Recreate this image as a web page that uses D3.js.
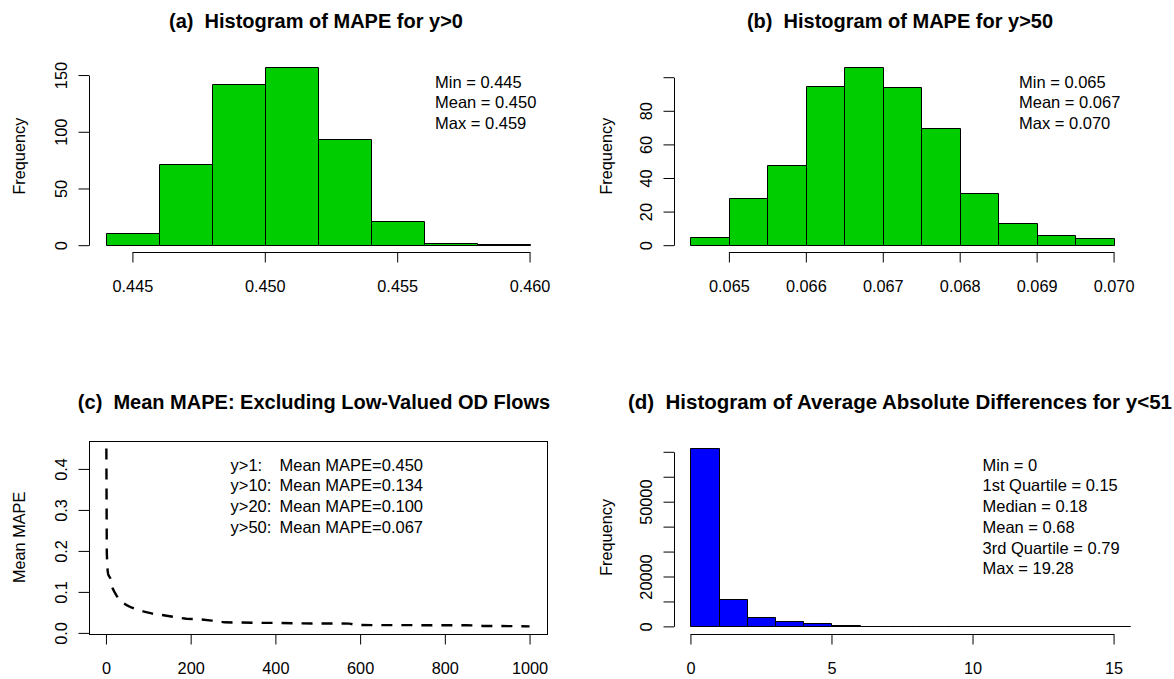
<!DOCTYPE html>
<html>
<head>
<meta charset="utf-8">
<script src="https://cdn.jsdelivr.net/npm/d3@7"></script>
<style>
  body { margin: 0; background: #fff; }
  svg text { font-family: "Liberation Sans", Arial, sans-serif; fill: #000; }
</style>
</head>
<body>
<div id="chart"></div>
<script>
// (a) histogram of MAPE for y>0
const breaksA = [0.444, 0.446, 0.448, 0.450, 0.452, 0.454, 0.456, 0.458, 0.460];
const countsA = [11, 72, 142, 157, 94, 21, 2, 1];
const statsA = ["Min = 0.445", "Mean = 0.450", "Max = 0.459"];
const xTicksA = [0.445, 0.450, 0.455, 0.460];
const yTicksA = [0, 50, 100, 150];

// (b) histogram of MAPE for y>50
const breaksB = [0.0645, 0.0650, 0.0655, 0.0660, 0.0665, 0.0670, 0.0675, 0.0680, 0.0685, 0.0690, 0.0695, 0.0700];
const countsB = [5, 28, 48, 95, 106, 94, 70, 31, 13, 6, 4];
const statsB = ["Min = 0.065", "Mean = 0.067", "Max = 0.070"];
const xTicksB = [0.065, 0.066, 0.067, 0.068, 0.069, 0.070];
const yTicksB = [0, 20, 40, 60, 80, 100];
const yLabelsB = ["0", "20", "40", "60", "80", ""];

// (c) mean MAPE when dropping low valued OD flows
const thresholds = [1, 2, 3, 4, 5, 6, 8, 10, 13, 16, 20, 25, 30, 40, 50, 60, 75, 90, 110, 130, 160, 190, 220, 250, 280, 320, 360, 400, 450, 500, 550, 575, 590, 650, 700, 750, 800, 850, 875, 890, 950, 1000];
const meanMape = [0.450, 0.195, 0.172, 0.152, 0.145, 0.141, 0.137, 0.134, 0.118, 0.108, 0.100, 0.091, 0.084, 0.074, 0.067, 0.062, 0.056, 0.052, 0.047, 0.044, 0.039, 0.0345, 0.0333, 0.0300, 0.0258, 0.0252, 0.0246, 0.0244, 0.0232, 0.0230, 0.0229, 0.0226, 0.0192, 0.0190, 0.0189, 0.0188, 0.0187, 0.0186, 0.0183, 0.0170, 0.0166, 0.0159];
const cutLabels = ["y>1:", "y>10:", "y>20:", "y>50:"];
const cutMeans = ["0.450", "0.134", "0.100", "0.067"];
const xTicksC = [0, 200, 400, 600, 800, 1000];
const yTicksC = [0, 0.1, 0.2, 0.3, 0.4];

// (d) histogram of average absolute differences for y<51
const breaksD = [0, 1, 2, 3, 4, 5, 6, 7, 8, 9, 10, 11, 12, 13, 14, 15, 16, 17, 18, 19, 20];
const countsD = [71360, 11100, 3750, 2300, 1350, 700, 250, 150, 90, 60, 40, 25, 15, 10, 6, 4, 3, 2, 1, 1];
const statsD = ["Min = 0", "1st Quartile = 0.15", "Median = 0.18", "Mean = 0.68", "3rd Quartile = 0.79", "Max = 19.28"];
const xTicksD = [0, 5, 10, 15];
const yTicksD = [0, 10000, 20000, 30000, 40000, 50000, 60000, 70000];
const yLabelsD = ["0", "", "20000", "", "", "50000", "", ""];

const W = 1174, H = 679;
const LABEL = 16.3, TITLE = 20, LINE = 20.7;

// plot regions (pixels)
const leftCol = {x0: 89, x1: 546.5}, rightCol = {x0: 673.5, x1: 1130.5};
const topRow = {y0: 60, y1: 252.3}, bottomRow = {y0: 441.3, y1: 633.5};

const svg = d3.select("#chart").append("svg")
  .attr("width", W).attr("height", H);

// R style limits: data range padded by 4% each side
function rExt(lo, hi) {
  const p = (hi - lo) * 0.04;
  return [lo - p, hi + p];
}

function xAxis(x, ticks, fmt, yPos) {
  const g = svg.append("g")
    .attr("transform", `translate(0,${Math.round(yPos)})`)
    .call(d3.axisBottom(x).tickValues(ticks).tickFormat(fmt).tickSize(10.5).tickSizeOuter(0))
    .attr("font-size", LABEL);
  g.select(".domain").attr("d", `M${x(ticks[0]) + 0.5},0.5H${x(ticks[ticks.length - 1]) + 0.5}`);
  g.selectAll("line").attr("stroke", "#000");
  g.selectAll("text").attr("y", 34).attr("dy", "0.35em");
  return g;
}

function yAxis(y, ticks, labels, xPos) {
  const g = svg.append("g")
    .attr("transform", `translate(${Math.round(xPos)},0)`)
    .call(d3.axisLeft(y).tickValues(ticks).tickFormat((d, i) => labels[i]).tickSize(10.5).tickSizeOuter(0))
    .attr("font-size", LABEL);
  g.select(".domain").attr("d", `M0.5,${y(ticks[0]) + 0.5}V${y(ticks[ticks.length - 1]) + 0.5}`);
  g.selectAll("line").attr("stroke", "#000");
  g.selectAll("text")
    .attr("transform", "rotate(-90)")
    .attr("x", 0).attr("y", -28)
    .attr("dy", "0.35em")
    .attr("text-anchor", "middle");
  return g;
}

function title(txt, x, cy, anchor, size) {
  svg.append("text")
    .attr("x", x).attr("y", cy).attr("dy", "0.35em")
    .attr("text-anchor", anchor || "middle")
    .attr("font-size", size || TITLE)
    .attr("font-weight", "bold")
    .style("white-space", "pre")
    .text(txt);
}

function yTitle(txt, cx, cy) {
  svg.append("text")
    .attr("transform", `translate(${cx},${cy}) rotate(-90)`)
    .attr("dy", "0.35em")
    .attr("text-anchor", "middle")
    .attr("font-size", LABEL)
    .text(txt);
}

function stats(lines, x, y0) {
  svg.append("g").selectAll("text")
    .data(lines)
    .join("text")
    .attr("x", x)
    .attr("y", (d, i) => y0 + i * LINE)
    .attr("dy", "0.35em")
    .attr("font-size", 16.5)
    .text(d => d);
}

// bars as closed paths so a zero height bin still shows its outline
function hist(x, y, breaks, counts, fill, clip) {
  const bins = counts.map((c, i) => ({x0: breaks[i], x1: breaks[i + 1], n: c}));
  const g = svg.append("g");
  if (clip) g.attr("clip-path", `url(#${clip})`);
  g.selectAll("path")
    .data(bins)
    .join("path")
    .attr("d", d => {
      const a = Math.round(x(d.x0)) + 0.5, b = Math.round(x(d.x1)) + 0.5;
      const t = Math.round(y(d.n)) + 0.5, base = Math.round(y(0)) + 0.5;
      return `M${a},${base}V${t}H${b}V${base}Z`;
    })
    .attr("fill", fill)
    .attr("stroke", "#000")
    .attr("stroke-width", 1);
}

// ---- (a)
const xA = d3.scaleLinear().domain(rExt(breaksA[0], breaksA[breaksA.length - 1])).range([leftCol.x0, leftCol.x1]);
const yA = d3.scaleLinear().domain(rExt(0, d3.max(countsA))).range([topRow.y1, topRow.y0]);
hist(xA, yA, breaksA, countsA, "#00CD00");
xAxis(xA, xTicksA, d3.format(".3f"), topRow.y1);
yAxis(yA, yTicksA, yTicksA.map(String), leftCol.x0);
title("(a)  Histogram of MAPE for y>0", 316, 21);
yTitle("Frequency", 19, (topRow.y0 + topRow.y1) / 2);
stats(statsA, 435, 82);

// ---- (b)
const xB = d3.scaleLinear().domain(rExt(breaksB[0], breaksB[breaksB.length - 1])).range([rightCol.x0, rightCol.x1]);
const yB = d3.scaleLinear().domain(rExt(0, d3.max(countsB))).range([topRow.y1, topRow.y0]);
hist(xB, yB, breaksB, countsB, "#00CD00");
xAxis(xB, xTicksB, d3.format(".3f"), topRow.y1);
yAxis(yB, yTicksB, yLabelsB, rightCol.x0);
title("(b)  Histogram of MAPE for y>50", 900, 21);
yTitle("Frequency", 606, (topRow.y0 + topRow.y1) / 2);
stats(statsB, 1019, 82);

// ---- (c)
const xC = d3.scaleLinear().domain(rExt(0, 1000)).range([leftCol.x0, leftCol.x1]);
const yC = d3.scaleLinear().domain(rExt(d3.min(meanMape), d3.max(meanMape))).range([bottomRow.y1, bottomRow.y0]);
svg.append("rect")
  .attr("x", Math.round(leftCol.x0) + 0.5).attr("y", Math.round(bottomRow.y0) + 0.5)
  .attr("width", Math.round(leftCol.x1) - Math.round(leftCol.x0))
  .attr("height", Math.round(bottomRow.y1) - Math.round(bottomRow.y0))
  .attr("fill", "none").attr("stroke", "#000");
const line = d3.line()
  .x((d, i) => xC(thresholds[i]))
  .y(d => yC(d));
svg.append("path")
  .datum(meanMape)
  .attr("d", line)
  .attr("fill", "none")
  .attr("stroke", "#000")
  .attr("stroke-width", 2.4)
  .attr("stroke-dasharray", "11,9");
xAxis(xC, xTicksC, d3.format("d"), bottomRow.y1);
yAxis(yC, yTicksC, yTicksC.map(d3.format(".1f")), leftCol.x0);
title("(c)  Mean MAPE: Excluding Low-Valued OD Flows", 314, 402);
yTitle("Mean MAPE", 19, (bottomRow.y0 + bottomRow.y1) / 2);
stats(cutLabels, 230.5, 465);
stats(cutMeans.map(v => "Mean MAPE=" + v), 279.5, 465);

// ---- (d)
const xD = d3.scaleLinear().domain(rExt(0, 15)).range([rightCol.x0, rightCol.x1]);
const yD = d3.scaleLinear().domain(rExt(0, d3.max(countsD))).range([bottomRow.y1, bottomRow.y0]);
svg.append("clipPath").attr("id", "clipD")
  .append("rect")
  .attr("x", rightCol.x0).attr("y", bottomRow.y0 - 2)
  .attr("width", rightCol.x1 - rightCol.x0).attr("height", bottomRow.y1 - bottomRow.y0 + 4);
hist(xD, yD, breaksD, countsD, "#0000FF", "clipD");
xAxis(xD, xTicksD, d3.format("d"), bottomRow.y1);
yAxis(yD, yTicksD, yLabelsD, rightCol.x0);
// the title runs off the right edge in the original, so pin its start
title("(d)  Histogram of Average Absolute Differences for y<51", 628, 402, "start", 20.5);
yTitle("Frequency", 606, (bottomRow.y0 + bottomRow.y1) / 2);
stats(statsD, 982.5, 465);
</script>
</body>
</html>
